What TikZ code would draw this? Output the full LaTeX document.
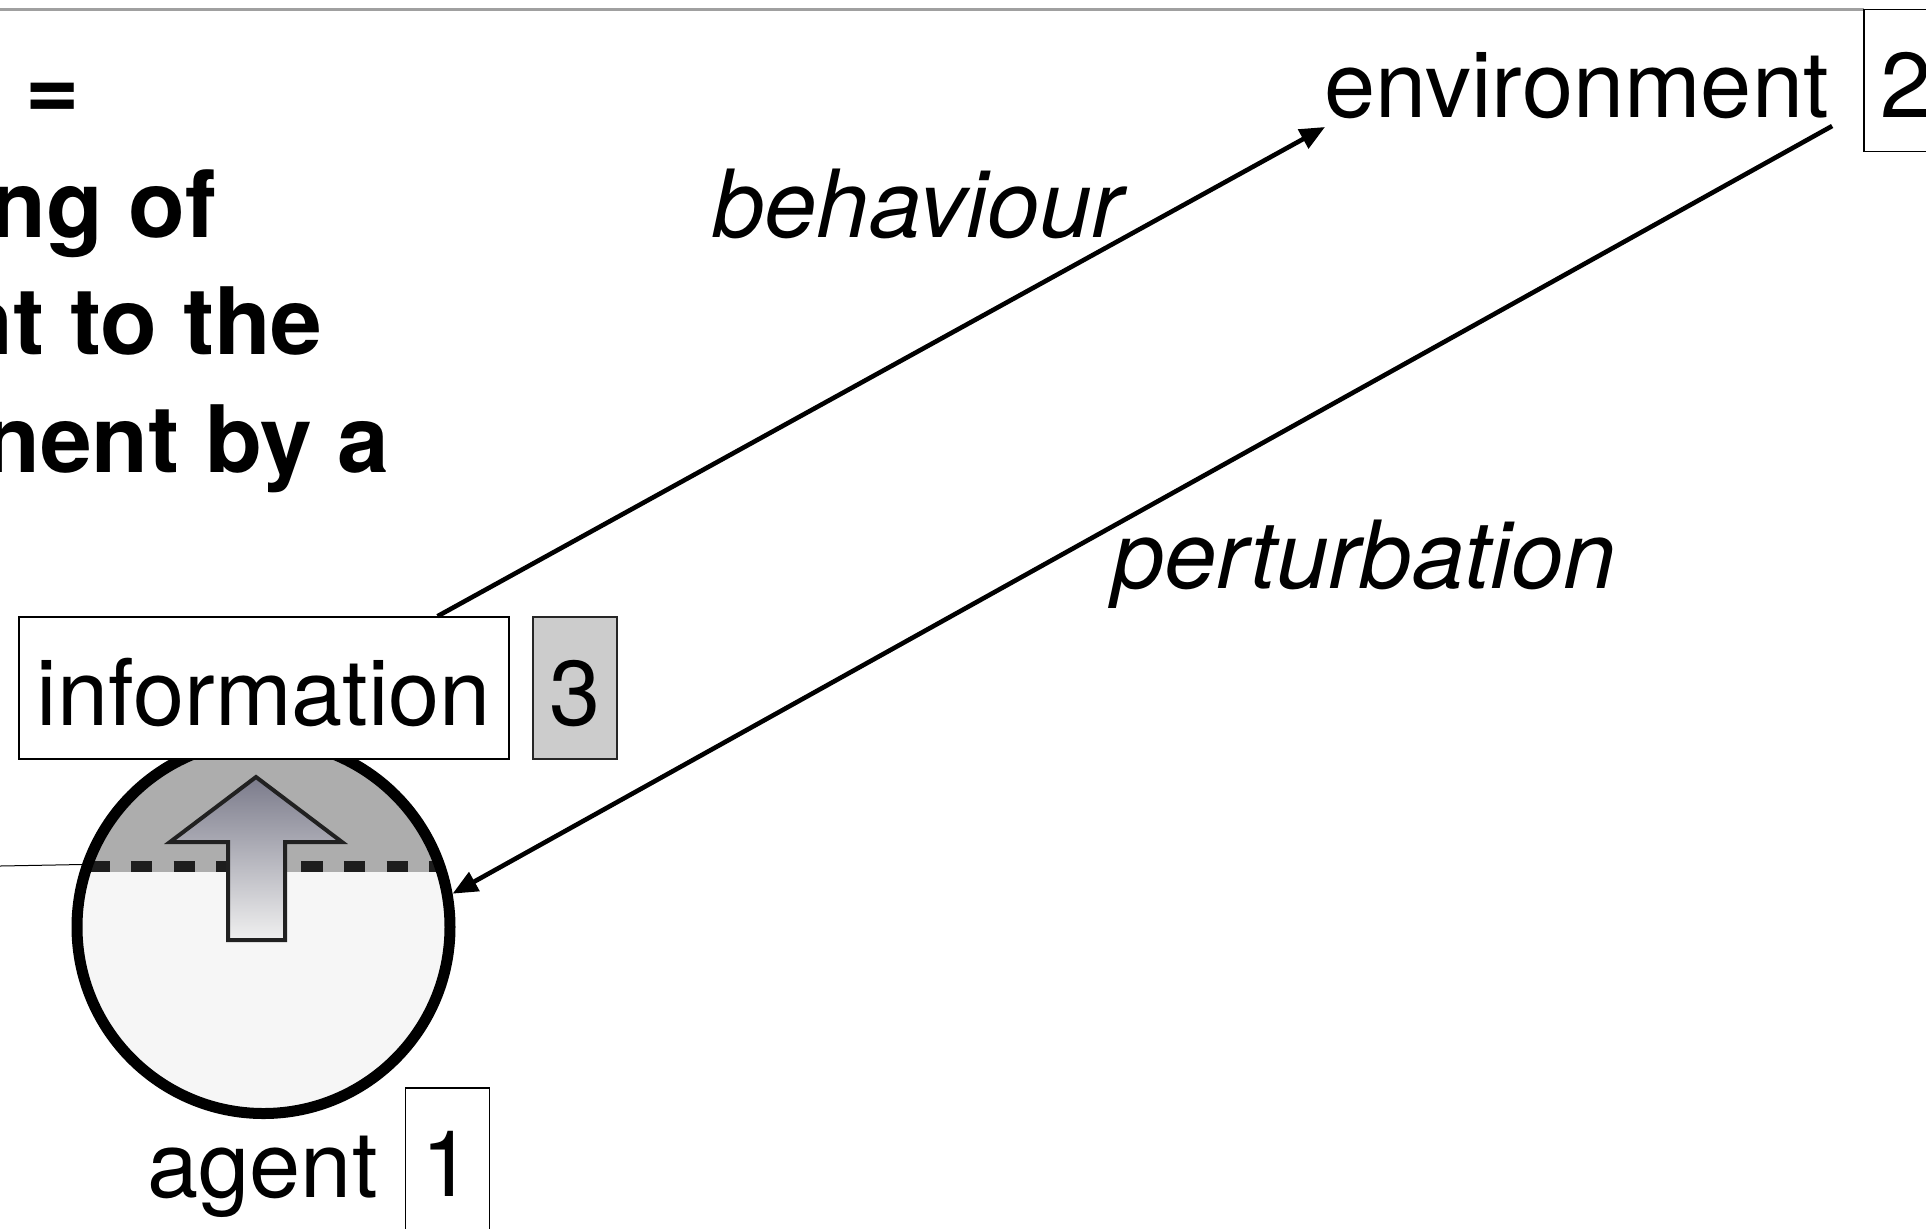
\documentclass[tikz,border=0pt]{standalone}
\usepackage{fontspec}
\setmainfont{TeX Gyre Heros}
\usetikzlibrary{arrows.meta,calc}
\definecolor{capgray}{HTML}{ADADAD}
\definecolor{bodygray}{HTML}{F6F6F6}
\definecolor{numgray}{HTML}{CCCCCC}
\definecolor{framegray}{HTML}{A0A0A0}
\definecolor{arrowtop}{HTML}{7B7B8B}
\definecolor{arrowbot}{HTML}{F0F0F0}
\definecolor{dashcol}{HTML}{1E1E1E}
\tikzset{
  lbl/.style={inner sep=0pt, anchor=base west, font=\fontsize{46pt}{55pt}\selectfont},
  itlbl/.style={inner sep=0pt, anchor=base west, font=\fontsize{47pt}{56pt}\selectfont\itshape},
  boldline/.style={inner sep=0pt, anchor=base east, font=\fontsize{46.5pt}{56pt}\selectfont\bfseries},
  boxed/.style={draw, line width=0.8pt, inner sep=0pt, minimum height=71pt,
    text height=37pt, text depth=0pt, font=\fontsize{46pt}{55pt}\selectfont},
  numbox/.style={boxed, minimum width=42pt},
  infobox/.style={boxed, fill=white, minimum width=245pt},
  flow/.style={line width=2.3pt, -{Triangle[length=12.5pt,width=10.5pt]}},
}
\begin{document}
\begin{tikzpicture}[x=0.5pt,y=-0.5pt]
\useasboundingbox (0,0) rectangle (1926,1228);
\clip (0,0) rectangle (1926,1228);
\fill[white] (0,0) rectangle (1926,1228);
\draw[framegray, line width=1.25pt] (0,9.5) -- (1864,9.5);

% bold text (cut at left edge, as in the reference)
\node[boldline] (t1) at (80,119) {=};
\node[boldline] (t2) at (217,237) {ng of};
\node[boldline] (t3) at (323,354) {nt to the};
\node[boldline] (t4) at (390,472) {nent by a};

% agent circle
\coordinate (agc) at (263.5,927);
\fill[bodygray] (agc) circle[radius=186.5];
\begin{scope}
  \clip (agc) circle[radius=186.5];
  \fill[capgray] (60,700) rectangle (470,872);
  \draw[dashcol, line width=5.5pt, dash pattern=on 10.65pt off 10.65pt] (88.3,866) -- (460,866);
\end{scope}
\draw[line width=2pt, draw=black!87, top color=arrowtop, bottom color=arrowbot, line join=miter]
  (256,777) -- (342,842) -- (285,842) -- (285,940) -- (228,940) -- (228,842) -- (170,842) -- cycle;
\node[circle, draw, line width=5.5pt, minimum size=186.5pt, inner sep=0pt] (ag) at (agc) {};
\coordinate (lineend) at (0,866);
\draw[line width=0.5pt] (lineend) -- (ag.161.4);

% boxes
\node[infobox] (info) at (264,688) {information};
\node[numbox, fill=numgray, draw=black!85] (n3) at (575,688) {3};
\node[numbox] (n1) at (447.5,1159) {1};
\node[numbox] (n2) at (1906,80.5) {2};

% labels
\node[lbl] (env) at (1324,117) {environment};
\node[lbl] (agl) at (147,1197) {agent};
\node[itlbl] (beh) at (712,237) {behaviour};
\node[itlbl] (per) at (1112,588) {perturbation};

% connectors
\draw[flow] ($(info.north west)!0.853!(info.north east)$) -- ([shift={(1,10)}]env.base west);
\draw[flow] ([shift={(3,9)}]env.base east) -- (ag.10.2);
\end{tikzpicture}
\end{document}
